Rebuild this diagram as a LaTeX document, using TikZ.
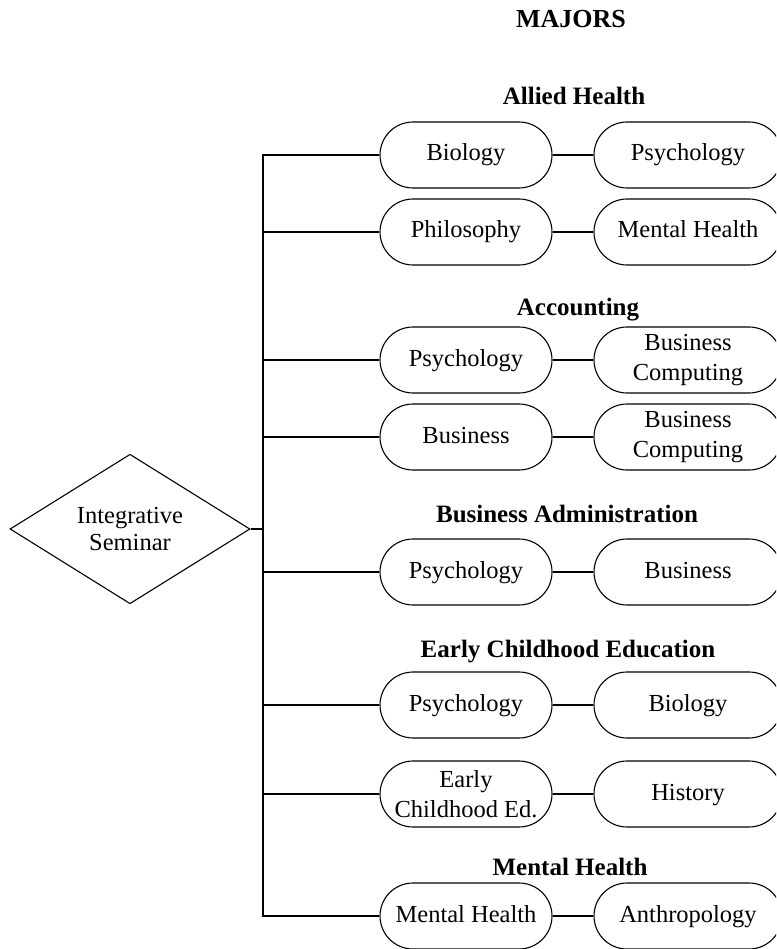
\documentclass[tikz,border=0pt]{standalone}
\usepackage{fontspec}
\setmainfont{Liberation Serif}
\usetikzlibrary{shapes.geometric,shapes.misc}
\begin{document}
\begin{tikzpicture}[x=1pt,y=-1pt,
  line width=1.1pt,
  pill/.style={draw, rounded rectangle, minimum height=66pt,
    inner sep=0pt, align=center, font=\fontsize{24.5}{30}\selectfont},
  oneline/.style={text height=17pt, text depth=5pt},
  leftpill/.style={pill, minimum width=172pt},
  rightpill/.style={pill, minimum width=188pt},
  heading/.style={anchor=base, inner sep=0pt, font=\fontsize{25}{30}\selectfont\bfseries},
  link/.style={draw, line width=1.1pt}]
\useasboundingbox (0,0) rectangle (776,949);
\clip (0,0) rectangle (776,949);

% Headings
\node[heading, font=\fontsize{26}{30}\selectfont\bfseries] (hmaj) at (571,28) {MAJORS};
\node[heading] (hah)  at (574,105) {Allied Health};
\node[heading] (hacc) at (578,315) {Accounting};
\node[heading] (hba)  at (567,522) {Business Administration};
\node[heading] (hece) at (568,657) {Early Childhood Education};
\node[heading] (hmh)  at (570,875) {Mental Health};

% Central seminar
\node[draw, diamond, minimum width=240pt, minimum height=133pt, inner sep=0pt,
  align=center, font=\fontsize{24.5}{27}\selectfont] (dia) at (130,529) {Integrative\\Seminar};

% Left column
\node[leftpill, oneline] (l1) at (466,155) {Biology};
\node[leftpill, oneline] (l2) at (466,232) {Philosophy};
\node[leftpill, oneline] (l3) at (466,360) {Psychology};
\node[leftpill, oneline] (l4) at (466,437) {Business};
\node[leftpill, oneline] (l5) at (466,572) {Psychology};
\node[leftpill, oneline] (l6) at (466,705) {Psychology};
\node[leftpill] (l7) at (466,794) {Early\\Childhood Ed.};
\node[leftpill, oneline] (l8) at (466,916) {Mental Health};

% Right column
\node[rightpill, oneline] (r1) at (688,155) {Psychology};
\node[rightpill, oneline] (r2) at (688,232) {Mental Health};
\node[rightpill] (r3) at (688,360) {Business\\Computing};
\node[rightpill] (r4) at (688,437) {Business\\Computing};
\node[rightpill, oneline] (r5) at (688,572) {Business};
\node[rightpill, oneline] (r6) at (688,705) {Biology};
\node[rightpill, oneline] (r7) at (688,794) {History};
\node[rightpill, oneline] (r8) at (688,916) {Anthropology};

% Trunk line
\coordinate (trunk) at (263,0);
\draw[link] (l1.west) -- (l1.west -| trunk) -- (l8.west -| trunk) -- (l8.west);
\foreach \i in {2,...,7} {
  \draw[link] (l\i.west) -- (l\i.west -| trunk);
}
\draw[link] (dia.east) -- (dia.east -| trunk);

% Pairs
\foreach \i in {1,...,8} {
  \draw[link] (l\i.east) -- (r\i.west);
}
\end{tikzpicture}
\end{document}
